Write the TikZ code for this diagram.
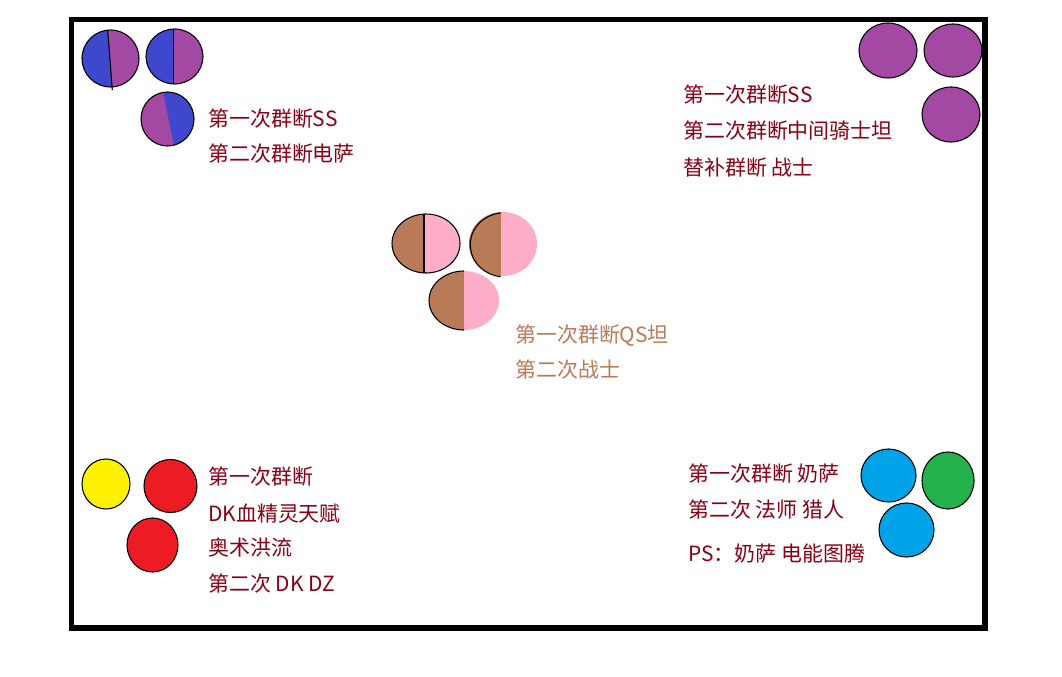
\documentclass[tikz,border=0pt]{standalone}
\usepackage{fontspec}
\setmainfont{Noto Sans CJK SC}
\usepackage{tikz}

\definecolor{pblue}{HTML}{3F48CC}
\definecolor{ppurple}{HTML}{A349A4}
\definecolor{pbrown}{HTML}{B97A57}
\definecolor{ppink}{HTML}{FFAEC9}
\definecolor{pyellow}{HTML}{FFF200}
\definecolor{pred}{HTML}{ED1C24}
\definecolor{pcyan}{HTML}{00A2E8}
\definecolor{pgreen}{HTML}{22B14C}
\definecolor{pdarkred}{HTML}{880015}

\tikzset{
  note/.style={anchor=west, inner sep=0pt, font=\fontsize{15.7}{18}\selectfont, text=pdarkred},
  brownnote/.style={note, text=pbrown},
  dot/.style={draw=black, line width=0.8pt}
}

\begin{document}
\begin{tikzpicture}[x=0.75pt,y=-0.75pt]
\useasboundingbox (0,0) rectangle (1062,677);
\fill[white] (0,0) rectangle (1062,677);
% frame
\draw[line width=3.9pt] (71.5,19.5) rectangle (985,628);

% top left: blue / purple
\fill[ppurple] (110.5,58.5) ellipse [x radius=28.5, y radius=28.5];
\begin{scope}
\clip (110.5,58.5) ellipse [x radius=28.5, y radius=28.5];
\fill[pblue] (70,20) -- (107.1,20) -- (112.6,97) -- (70,97) -- cycle;
\end{scope}
\draw[line width=0.8pt] (107.7,30) -- (112.3,90);
\draw[dot] (110.5,58.5) ellipse [x radius=28.5, y radius=28.5];

\fill[ppurple] (174.5,56.5) ellipse [x radius=28.5, y radius=27.5];
\begin{scope}
\clip (174.5,56.5) ellipse [x radius=28.5, y radius=27.5];
\fill[pblue] (140,20) rectangle (173.7,90);
\end{scope}
\draw[line width=0.8pt] (173.7,29) -- (173.7,84);
\draw[dot] (174.5,56.5) ellipse [x radius=28.5, y radius=27.5];

\fill[pblue] (167.5,119) ellipse [x radius=26.5, y radius=27];
\begin{scope}
\clip (167.5,119) ellipse [x radius=26.5, y radius=27];
\fill[ppurple] (130,85) -- (161.6,85) -- (175.4,153) -- (130,153) -- cycle;
\end{scope}
\draw[dot] (167.5,119) ellipse [x radius=26.5, y radius=27];

\node[note] (tl1) at (208,118.5) {第一次群断SS};
\node[note] (tl2) at (208,154) {第二次群断电萨};

% top right: purple
\draw[dot, fill=ppurple] (888,50.5) ellipse [x radius=29, y radius=27.5];
\draw[dot, fill=ppurple] (953,50.5) ellipse [x radius=29, y radius=26.5];
\draw[dot, fill=ppurple] (951,114.5) ellipse [x radius=29, y radius=27.5];

\node[note] (tr1) at (683,95) {第一次群断SS};
\node[note] (tr2) at (683,130.5) {第二次群断中间骑士坦};
\node[note] (tr3) at (683,167.5) {替补群断 战士};

% middle: brown / pink
\fill[ppink] (426,243.5) ellipse [x radius=34, y radius=29.5];
\begin{scope}
\clip (426,243.5) ellipse [x radius=34, y radius=29.5];
\fill[pbrown] (390,210) rectangle (424,275);
\end{scope}
\draw[line width=0.8pt] (424,214) -- (424,273);
\draw[dot] (426,243.5) ellipse [x radius=34, y radius=29.5];

\fill[ppink] (503,244) ellipse [x radius=34, y radius=32];
\begin{scope}
\clip (503,244) ellipse [x radius=34, y radius=32];
\fill[pbrown] (465,210) rectangle (500.7,280);
\end{scope}
\draw[line width=0.8pt] (500.7,213) arc [start angle=264, end angle=96, x radius=34, y radius=32];

\fill[ppink] (464,300.5) ellipse [x radius=35, y radius=29.5];
\begin{scope}
\clip (464,300.5) ellipse [x radius=35, y radius=29.5];
\fill[pbrown] (425,268) rectangle (463.7,335);
\end{scope}
\draw[line width=0.8pt] (464,271) arc [start angle=270, end angle=90, x radius=35, y radius=29.5];

\node[brownnote] (m1) at (515,336) {第一次群断QS坦};
\node[brownnote] (m2) at (515,370) {第二次战士};

% bottom left: yellow / red
\draw[dot, fill=pyellow] (106,484) ellipse [x radius=24, y radius=25];
\draw[dot, fill=pred] (170.5,486) ellipse [x radius=26.5, y radius=26.5];
\draw[dot, fill=pred] (152.5,545) ellipse [x radius=25.5, y radius=27];

\node[note] (bl1) at (208,477) {第一次群断};
\node[note] (bl2) at (208,514) {DK血精灵天赋};
\node[note] (bl3) at (208,548) {奥术洪流};
\node[note] (bl4) at (208,584) {第二次 DK DZ};

% bottom right: cyan / green
\draw[dot, fill=pcyan] (888.5,475.5) ellipse [x radius=27.5, y radius=26.5];
\draw[dot, fill=pgreen] (948,480.5) ellipse [x radius=26, y radius=28.5];
\draw[dot, fill=pcyan] (906.5,530) ellipse [x radius=27.5, y radius=27];

\node[note] (br1) at (688,474) {第一次群断 奶萨};
\node[note] (br2) at (688,510) {第二次 法师 猎人};
\node[note] (br3) at (688,554) {PS：奶萨 电能图腾};
\end{tikzpicture}
\end{document}
